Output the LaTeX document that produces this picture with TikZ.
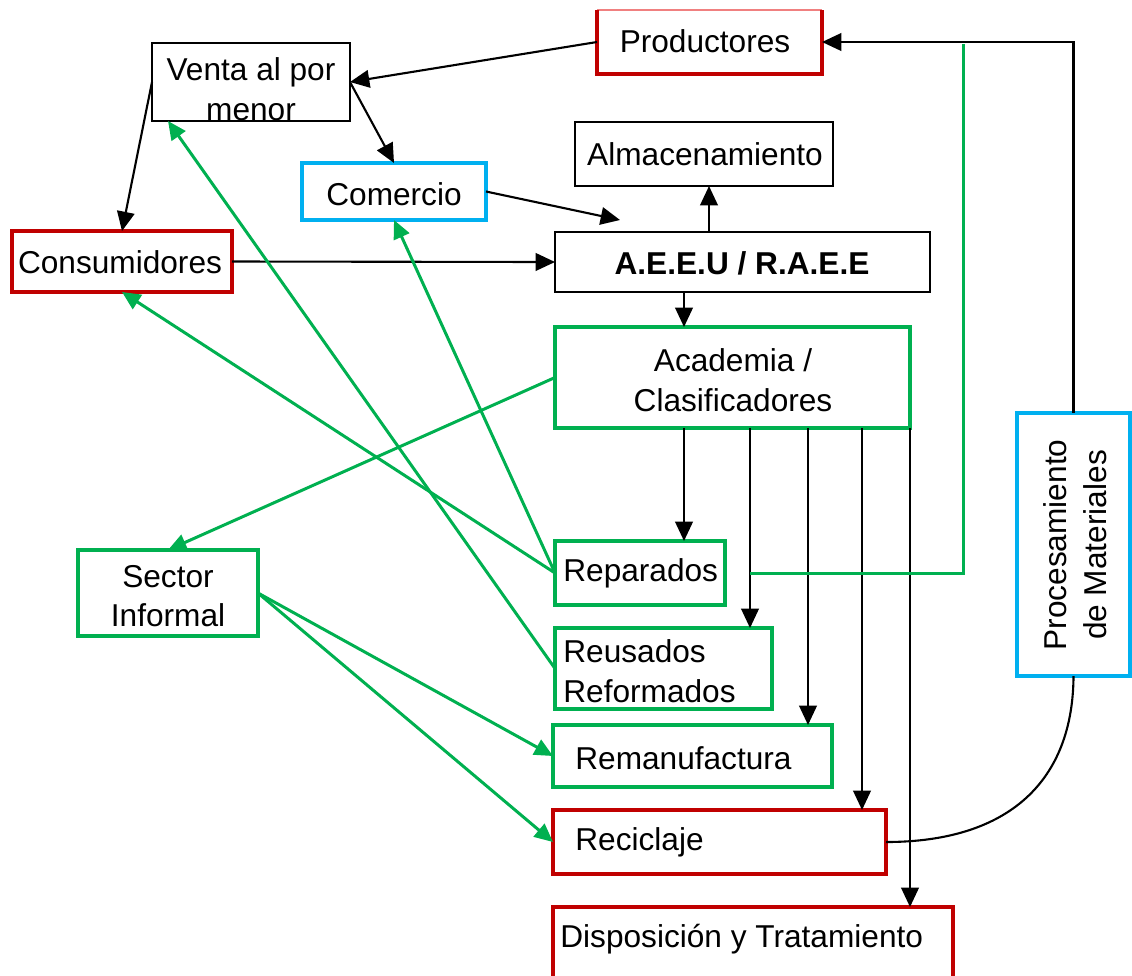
\documentclass[tikz,border=0pt]{standalone}
\usepackage{fontspec}
\setmainfont{Liberation Sans}
\usetikzlibrary{arrows.meta,calc}
\definecolor{cred}{HTML}{C00000}
\definecolor{cpink}{HTML}{F08080}
\definecolor{cblue}{HTML}{00B0F0}
\definecolor{cgreen}{HTML}{00B050}
\tikzset{
  bx/.style={draw, line width=1.2pt, inner sep=0pt, outer sep=0pt},
  rbx/.style={bx, draw=cred, line width=1.9pt},
  nbx/.style={inner sep=0pt, outer sep=0pt},
  bbx/.style={bx, draw=cblue, line width=1.9pt},
  gbx/.style={bx, draw=cgreen, line width=1.9pt},
  txt/.style={inner sep=0pt, font=\fontsize{18}{22.5}\selectfont, align=center},
  ltxt/.style={txt, anchor=west, align=left},
  conn/.style={line width=1.2pt, -{Triangle[length=11pt,width=10pt]}},
  plain/.style={line width=1.2pt},
  gconn/.style={draw=cgreen, line width=1.7pt, -{Triangle[length=10.5pt,width=9.5pt]}},
  gplain/.style={draw=cgreen, line width=1.7pt},
}
\newcommand\mybox[6]{\node[#2, minimum width={(#5-#3)*0.02cm}, minimum height={(#6-#4)*0.02cm}] (#1) at ({(#3+#5)/2},{(#4+#6)/2}) {};}
\begin{document}
\begin{tikzpicture}[x=0.02cm,y=-0.02cm]
\useasboundingbox (0,0) rectangle (1132,975);
% boxes
\mybox{prod}{nbx}{597}{10}{822}{74}
\draw[cpink, line width=0.8pt] (prod.north west) -- (prod.north east);
\draw[cred, line width=1.9pt] (prod.north west) -- (prod.south west) -- (prod.south east) -- (prod.north east);
\mybox{venta}{bx}{152}{43}{350}{121}
\mybox{com}{bbx}{302}{163}{486}{220}
\mybox{alm}{bx}{575}{122}{833}{186}
\mybox{cons}{rbx}{12}{231}{232}{292}
\mybox{aeeu}{bx}{555}{232}{930}{292}
\mybox{acad}{gbx}{555}{327}{910}{428}
\mybox{sector}{gbx}{78}{550}{258}{636}
\mybox{rep}{gbx}{555}{541}{725}{605}
\mybox{reus}{gbx}{555}{628}{772}{709}
\mybox{reman}{gbx}{553}{725}{832}{787}
\mybox{recic}{rbx}{553}{810}{886}{874}
\mybox{disp}{rbx}{553}{907}{953}{985}
\mybox{proc}{bbx}{1017}{413}{1130}{676}
% texts
\node[txt] (tprod) at (705,41) {Productores};
\node[txt] (tventa) at (251,89) {Venta al por\\menor};
\node[txt] (tcom) at (394,194) {Comercio};
\node[txt] (talm) at (705,154) {Almacenamiento};
\node[txt] (tcons) at (120,262) {Consumidores};
\node[txt, font=\fontsize{18}{22.5}\selectfont\bfseries] (taeeu) at (742,263) {A.E.E.U / R.A.E.E};
\node[txt] (tacad) at (733,380) {Academia /\\Clasificadores};
\node[txt] (tsector) at (168,596) {Sector\\Informal};
\node[ltxt] (trep) at (563,573) {Reparados};
\node[ltxt] (treus) at (563,671) {Reusados\\Reformados};
\node[ltxt] (treman) at (575,758) {Remanufactura};
\node[ltxt] (trecic) at (575,842) {Reciclaje};
\node[ltxt] (tdisp) at (560,939) {Disposición y Tratamiento};
\node[txt, rotate=90] (tproc) at (1075,545) {Procesamiento\\de Materiales};
% coordinates
\coordinate (comend) at (620,220);
\coordinate (gcorner) at (963,573);
\coordinate (gtop) at (963,44);
\coordinate (gstart) at (750,573);
% black connectors
\draw[conn] (prod.west) -- (venta.east);
\draw[conn] (venta.east) -- (com.north);
\draw[conn] (venta.west) -- (cons.north);
\draw[conn] (com.east) -- (comend);
\draw[conn] (cons.east) -- (aeeu.west);
\draw[conn] (aeeu.north -| 709,0) -- (alm.south -| 709,0);
\draw[conn] (aeeu.south -| 684,0) -- (acad.north -| 684,0);
\draw[conn] (acad.south -| 684,0) -- (rep.north -| 684,0);
\draw[conn] (acad.south -| 750,0) -- (reus.north -| 750,0);
\draw[conn] (acad.south -| 808,0) -- (reman.north -| 808,0);
\draw[conn] (acad.south -| 862,0) -- (recic.north -| 862,0);
\draw[conn] (acad.south -| 910,0) -- (disp.north -| 910,0);
\draw[plain] (recic.east) .. controls (1010,842) and (1073,780) .. (proc.south);
\draw[conn] (proc.north) |- (prod.east);
% green connectors
\draw[gplain] (gstart) -- (gcorner) -- (gtop);
\draw[gconn] (acad.west) -- (sector.north);
\draw[gconn] (rep.west) -- (cons.south);
\draw[gconn] (rep.west) -- (com.south);
\draw[gconn] (reus.west) -- (venta.south -| 168,0);
\draw[gconn] (sector.east) -- (reman.west);
\draw[gconn] (sector.east) -- (recic.west);
\end{tikzpicture}
\end{document}
